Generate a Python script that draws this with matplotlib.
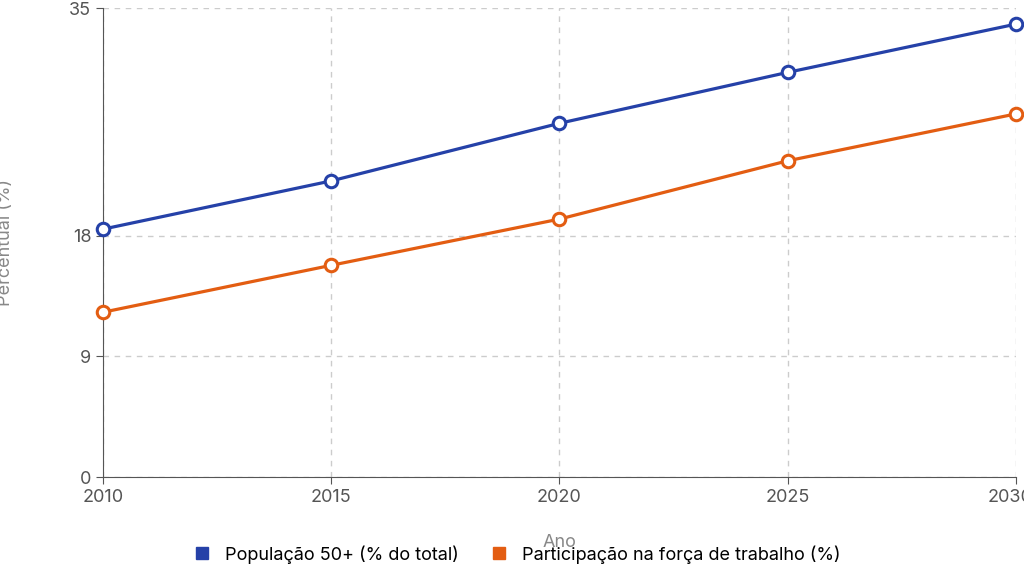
import matplotlib
matplotlib.use("Agg")
import matplotlib.pyplot as plt
from matplotlib.lines import Line2D
from matplotlib.transforms import ScaledTranslation

plt.rcParams['font.family'] = ['Inter', 'DejaVu Sans']

years = [2010, 2015, 2020, 2025, 2030]
pop50 = [18.5, 22.1, 26.4, 30.2, 33.8]
forca = [12.3, 15.8, 19.25, 23.6, 27.1]
yticks = [0, 9, 18, 35]
labels = ["População 50+ (% do total)", "Participação na força de trabalho (%)"]
blue = "#2541a8"
orange = "#e35d12"

fig = plt.figure(figsize=(10.24, 5.77), dpi=100)
ax = fig.add_axes([0.1006, 0.1733, 0.8914, 0.8127])
for vals, c in [(pop50, blue), (forca, orange)]:
    ax.plot(years, vals, color=c, lw=2.3, marker='o', ms=9, mfc='white', mec=c, mew=2.2, zorder=3, clip_on=False)
ax.set_xlim(2010, 2030)
ax.set_ylim(0, 35)
ax.set_xticks(years)
ax.set_yticks(yticks)
ax.grid(True, ls=(0, (4, 4)), color='#cccccc', lw=1)
for s in ['top', 'right']:
    ax.spines[s].set_visible(False)
for s in ['left', 'bottom']:
    ax.spines[s].set_color('#555555')
ax.tick_params(colors='#555555', labelsize=13, length=5)
last = ax.get_xticklabels()[-1]
last.set_transform(last.get_transform() + ScaledTranslation(-0.06, 0, fig.dpi_scale_trans))
ax.set_xlabel("Ano", color='#888888', fontsize=13, labelpad=20)
ax.set_ylabel("Percentual (%)", color='#888888', fontsize=13, labelpad=40)
handles = [Line2D([], [], ls='none', marker='s', ms=9, color=c) for c in (blue, orange)]
fig.legend(handles, labels, loc='lower center', bbox_to_anchor=(0.5, -0.005), ncol=2, frameon=False,
           fontsize=13, handletextpad=0.3, columnspacing=1.2)
fig.savefig("out.png", dpi=100)
